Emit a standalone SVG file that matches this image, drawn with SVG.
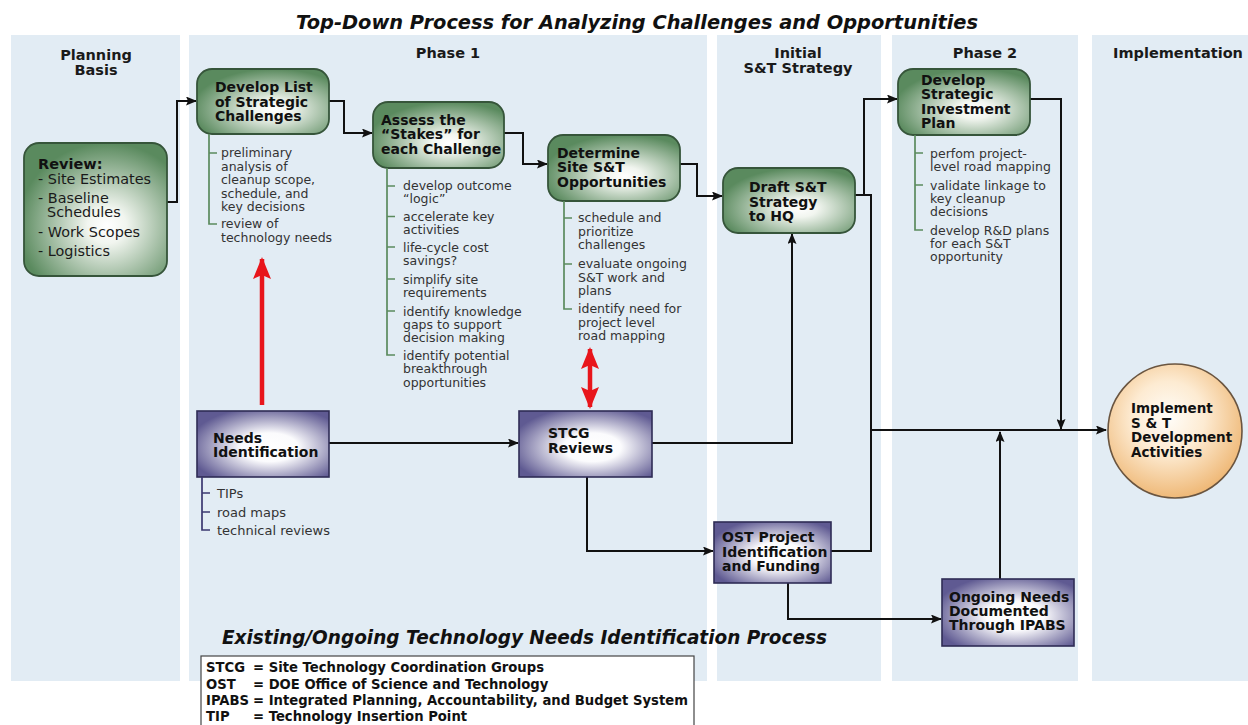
<svg xmlns="http://www.w3.org/2000/svg" width="1248" height="725" viewBox="0 0 1248 725">
  <style>
    text { font-family: "DejaVu Sans", Verdana, sans-serif; }
    .panel { fill: #e2ecf4; }
    .ttl { font-size: 19px; font-weight: bold; font-style: italic; fill: #111; }
    .hdr { font-size: 14.5px; font-weight: bold; fill: #1a1a1a; text-anchor: middle; }
    .nt { font-size: 14px; font-weight: bold; fill: #111; }
    .bt { font-size: 12.5px; fill: #333; }
    .rv { font-size: 14.4px; fill: #1a1a1a; }
    .lg { font-size: 13.2px; font-weight: bold; fill: #111; }
    .gnode { fill: url(#gradGreen); stroke: #36553a; stroke-width: 1.8; }
    .pnode { fill: url(#gradPurple); stroke: #2f2c55; stroke-width: 1.6; }
    .gbar { stroke: #5b8a5d; stroke-width: 1.7; fill: none; }
    .pbar { stroke: #3b3870; stroke-width: 1.7; fill: none; }
    .conn { stroke: #111; stroke-width: 2; fill: none; }
    .red { stroke: #e8151b; stroke-width: 4.5; fill: none; }
  </style>
  <defs>
    <radialGradient id="gradGreen" cx="0.58" cy="0.62" r="0.62">
      <stop offset="0" stop-color="#ffffff"/>
      <stop offset="0.22" stop-color="#f1f5ef"/>
      <stop offset="1" stop-color="#5a8a5e"/>
    </radialGradient>
    <radialGradient id="gradPurple" cx="0.55" cy="0.55" r="0.62">
      <stop offset="0" stop-color="#ffffff"/>
      <stop offset="0.35" stop-color="#fbfbfd"/>
      <stop offset="1" stop-color="#5f5a92"/>
    </radialGradient>
    <radialGradient id="gradPeach" cx="0.45" cy="0.4" r="0.6">
      <stop offset="0" stop-color="#fffdf9"/>
      <stop offset="0.45" stop-color="#fdebd2"/>
      <stop offset="1" stop-color="#efb978"/>
    </radialGradient>
    <marker id="arr" markerUnits="userSpaceOnUse" markerWidth="11" markerHeight="9" refX="10" refY="4.5" orient="auto">
      <path d="M0,0 L11,4.5 L0,9 L2,4.5 z" fill="#111"/>
    </marker>
    <marker id="redArr" markerUnits="userSpaceOnUse" markerWidth="22" markerHeight="18" refX="20" refY="9" orient="auto-start-reverse">
      <path d="M0,0 L22,9 L0,18 L4,9 z" fill="#e8151b"/>
    </marker>
  </defs>

  <!-- title -->
  <text class="ttl" x="296" y="29" textLength="682" lengthAdjust="spacingAndGlyphs">Top-Down Process for Analyzing Challenges and Opportunities</text>

  <!-- column panels -->
  <g id="panels">
    <rect class="panel" x="11" y="35" width="169" height="646"/>
    <rect class="panel" x="189" y="35" width="518" height="646"/>
    <rect class="panel" x="717" y="35" width="164" height="646"/>
    <rect class="panel" x="892" y="35" width="186" height="646"/>
    <rect class="panel" x="1092" y="35" width="156" height="646"/>
    <text class="hdr" x="96" y="60">Planning</text>
    <text class="hdr" x="96" y="75">Basis</text>
    <text class="hdr" x="448" y="58">Phase 1</text>
    <text class="hdr" x="798" y="58">Initial</text>
    <text class="hdr" x="798" y="73">S&amp;T Strategy</text>
    <text class="hdr" x="985" y="58">Phase 2</text>
    <text class="hdr" x="1178" y="58">Implementation</text>
  </g>

  <!-- connectors -->
  <g id="connectors">
    <path class="conn" d="M167,202 H177 V101 H196" marker-end="url(#arr)"/>
    <path class="conn" d="M329,101 H344 V133 H372" marker-end="url(#arr)"/>
    <path class="conn" d="M504,133 H523 V164 H547" marker-end="url(#arr)"/>
    <path class="conn" d="M680,164 H697 V196 H722" marker-end="url(#arr)"/>
    <path class="conn" d="M855,195 H864 V99 H897" marker-end="url(#arr)"/>
    <path class="conn" d="M855,195 H871 V551 H831"/>
    <path class="conn" d="M871,430 H1106" marker-end="url(#arr)"/>
    <path class="conn" d="M1030,99 H1061 V429" marker-end="url(#arr)"/>
    <path class="conn" d="M1000,579 V432" marker-end="url(#arr)"/>
    <path class="conn" d="M329,443 H518" marker-end="url(#arr)"/>
    <path class="conn" d="M652,443 H792 V234" marker-end="url(#arr)"/>
    <path class="conn" d="M587,477 V551 H713" marker-end="url(#arr)"/>
    <path class="conn" d="M788,583 V619 H941" marker-end="url(#arr)"/>
    <path class="red" d="M262,405 V259" marker-end="url(#redArr)"/>
    <path class="red" d="M590,349 V407" marker-start="url(#redArr)" marker-end="url(#redArr)"/>
  </g>

  <!-- Planning Basis -->
  <g id="review">
    <rect class="gnode" x="24" y="143" width="143" height="133" rx="15"/>
    <text class="nt" x="38" y="169" style="font-size:14.5px">Review:</text>
    <text class="rv" x="38" y="184">- Site Estimates</text>
    <text class="rv" x="38" y="203">- Baseline</text>
    <text class="rv" x="47" y="217">Schedules</text>
    <text class="rv" x="38" y="237">- Work Scopes</text>
    <text class="rv" x="38" y="256">- Logistics</text>
  </g>

  <!-- Phase 1 -->
  <g id="develop-list">
    <rect class="gnode" x="197" y="69" width="132" height="65" rx="15"/>
    <text class="nt" x="215" y="92">Develop List</text>
    <text class="nt" x="215" y="106.5">of Strategic</text>
    <text class="nt" x="215" y="121">Challenges</text>
    <path class="gbar" d="M209,134 V224 H217 M209,153 H217"/>
    <text class="bt" x="221" y="157">preliminary</text>
    <text class="bt" x="221" y="170.5">analysis of</text>
    <text class="bt" x="221" y="184">cleanup scope,</text>
    <text class="bt" x="221" y="197.5">schedule, and</text>
    <text class="bt" x="221" y="211">key decisions</text>
    <text class="bt" x="221" y="228">review of</text>
    <text class="bt" x="221" y="241.5">technology needs</text>
  </g>

  <g id="assess">
    <rect class="gnode" x="373" y="102" width="131" height="66" rx="15"/>
    <text class="nt" x="381" y="125">Assess the</text>
    <text class="nt" x="381" y="139">“Stakes” for</text>
    <text class="nt" x="381" y="154">each Challenge</text>
    <path class="gbar" d="M387,168 V355 H395 M387,186 H395 M387,216.5 H395 M387,247 H395 M387,279 H395 M387,311 H395"/>
    <text class="bt" x="403" y="190">develop outcome</text>
    <text class="bt" x="403" y="203.3">“logic”</text>
    <text class="bt" x="403" y="221">accelerate key</text>
    <text class="bt" x="403" y="234.3">activities</text>
    <text class="bt" x="403" y="251.5">life-cycle cost</text>
    <text class="bt" x="403" y="264.8">savings?</text>
    <text class="bt" x="403" y="284">simplify site</text>
    <text class="bt" x="403" y="297.3">requirements</text>
    <text class="bt" x="403" y="315.5">identify knowledge</text>
    <text class="bt" x="403" y="328.8">gaps to support</text>
    <text class="bt" x="403" y="342">decision making</text>
    <text class="bt" x="403" y="360">identify potential</text>
    <text class="bt" x="403" y="373.3">breakthrough</text>
    <text class="bt" x="403" y="386.6">opportunities</text>
  </g>

  <g id="determine">
    <rect class="gnode" x="548" y="135" width="132" height="66" rx="15"/>
    <text class="nt" x="557" y="158">Determine</text>
    <text class="nt" x="557" y="172">Site S&amp;T</text>
    <text class="nt" x="557" y="187">Opportunities</text>
    <path class="gbar" d="M564,201 V309 H572 M564,218 H572 M564,264 H572"/>
    <text class="bt" x="578" y="222">schedule and</text>
    <text class="bt" x="578" y="235.5">prioritize</text>
    <text class="bt" x="578" y="249">challenges</text>
    <text class="bt" x="578" y="268">evaluate ongoing</text>
    <text class="bt" x="578" y="281.5">S&amp;T work and</text>
    <text class="bt" x="578" y="295">plans</text>
    <text class="bt" x="578" y="313">identify need for</text>
    <text class="bt" x="578" y="326.5">project level</text>
    <text class="bt" x="578" y="340">road mapping</text>
  </g>

  <g id="needs">
    <rect class="pnode" x="197" y="411" width="132" height="66"/>
    <text class="nt" x="213" y="443">Needs</text>
    <text class="nt" x="213" y="457">Identification</text>
    <path class="pbar" d="M202,477 V530 H210 M202,493 H210 M202,512 H210"/>
    <text class="bt" x="217" y="498" style="font-size:13px">TIPs</text>
    <text class="bt" x="217" y="516.5" style="font-size:13px">road maps</text>
    <text class="bt" x="217" y="534.5" style="font-size:13px">technical reviews</text>
  </g>

  <g id="stcg">
    <rect class="pnode" x="519" y="411" width="133" height="66"/>
    <text class="nt" x="548" y="438">STCG</text>
    <text class="nt" x="548" y="453">Reviews</text>
  </g>

  <!-- Initial S&T Strategy -->
  <g id="draft">
    <rect class="gnode" x="723" y="168" width="132" height="65" rx="15"/>
    <text class="nt" x="749" y="192">Draft S&amp;T</text>
    <text class="nt" x="749" y="207">Strategy</text>
    <text class="nt" x="749" y="221">to HQ</text>
  </g>

  <g id="ost">
    <rect class="pnode" x="714" y="522" width="117" height="61"/>
    <text class="nt" x="722" y="542">OST Project</text>
    <text class="nt" x="722" y="557">Identification</text>
    <text class="nt" x="722" y="571">and Funding</text>
  </g>

  <!-- Phase 2 -->
  <g id="investment-plan">
    <rect class="gnode" x="898" y="69" width="132" height="66" rx="15"/>
    <text class="nt" x="921" y="85">Develop</text>
    <text class="nt" x="921" y="99">Strategic</text>
    <text class="nt" x="921" y="114">Investment</text>
    <text class="nt" x="921" y="128">Plan</text>
    <path class="gbar" d="M915,135 V230 H923 M915,153 H923 M915,185 H923"/>
    <text class="bt" x="930" y="158">perfom project-</text>
    <text class="bt" x="930" y="171">level road mapping</text>
    <text class="bt" x="930" y="189.5">validate linkage to</text>
    <text class="bt" x="930" y="202.5">key cleanup</text>
    <text class="bt" x="930" y="216">decisions</text>
    <text class="bt" x="930" y="234.5">develop R&amp;D plans</text>
    <text class="bt" x="930" y="247.5">for each S&amp;T</text>
    <text class="bt" x="930" y="261">opportunity</text>
  </g>

  <g id="ongoing">
    <rect class="pnode" x="942" y="579" width="132" height="67"/>
    <text class="nt" x="949" y="602">Ongoing Needs</text>
    <text class="nt" x="949" y="616">Documented</text>
    <text class="nt" x="949" y="630">Through IPABS</text>
  </g>

  <!-- Implementation -->
  <g id="implement">
    <circle cx="1175" cy="431" r="67" fill="url(#gradPeach)" stroke="#6a5540" stroke-width="1.6"/>
    <text class="nt" x="1131" y="413" style="font-size:13.5px">Implement</text>
    <text class="nt" x="1131" y="428" style="font-size:13.5px">S &amp; T</text>
    <text class="nt" x="1131" y="442" style="font-size:13.5px">Development</text>
    <text class="nt" x="1131" y="457" style="font-size:13.5px">Activities</text>
  </g>

  <!-- lower process caption and abbreviations -->
  <text class="ttl" x="222" y="644" textLength="605" lengthAdjust="spacingAndGlyphs">Existing/Ongoing Technology Needs Identification Process</text>
  <g id="legend">
    <rect x="201" y="656" width="493" height="80" fill="#ffffff" stroke="#444" stroke-width="1.2"/>
    <text class="lg" x="206" y="672">STCG</text>
    <text class="lg" x="253" y="672">= Site Technology Coordination Groups</text>
    <text class="lg" x="206" y="689">OST</text>
    <text class="lg" x="253" y="689">= DOE Office of Science and Technology</text>
    <text class="lg" x="206" y="705">IPABS</text>
    <text class="lg" x="253" y="705">= Integrated Planning, Accountability, and Budget System</text>
    <text class="lg" x="206" y="721">TIP</text>
    <text class="lg" x="253" y="721">= Technology Insertion Point</text>
  </g>
</svg>
